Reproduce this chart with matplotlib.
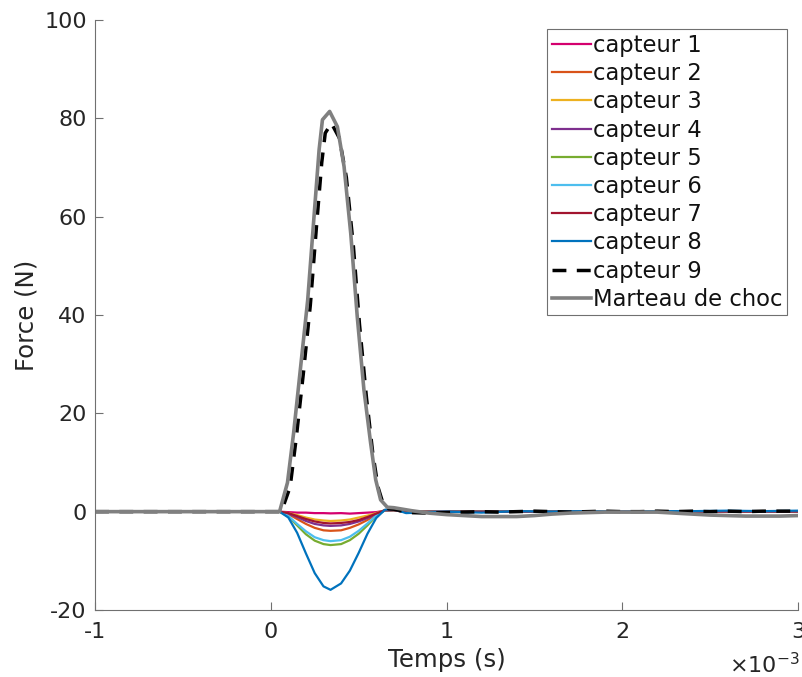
import numpy as np
import matplotlib
matplotlib.use("Agg")
import matplotlib.pyplot as plt

plt.rcParams['axes.unicode_minus'] = False
plt.rcParams['font.family'] = 'DejaVu Sans'

# time in ms (axis shows x 10^-3 s)
t_ham = [-1.0, 0.0, 0.05, 0.095, 0.13, 0.17, 0.21, 0.246, 0.275, 0.294, 0.335, 0.379,
         0.417, 0.455, 0.492, 0.53, 0.568, 0.597, 0.625, 0.663, 0.7, 0.8, 0.9, 1.0,
         1.1, 1.2, 1.3, 1.4, 1.5, 1.6, 1.7, 1.8, 1.9, 2.0, 2.1, 2.2, 2.3, 2.4, 2.5,
         2.6, 2.7, 2.8, 2.9, 3.0]
f_ham = [0, 0, 0, 5.9, 16, 29.5, 43, 60, 73.6, 79.7, 81.4, 78.3,
         70.2, 56.6, 39.7, 24.8, 14, 6.5, 2.4, 0.9, 0.8, 0.2, -0.3, -0.6,
         -0.8, -1.0, -1.0, -1.0, -0.8, -0.5, -0.3, -0.2, -0.1, -0.1, -0.1, -0.1, -0.3, -0.5, -0.7,
         -0.8, -0.9, -0.9, -0.9, -0.8]

t_c9 = [-1.0, 0.0, 0.06, 0.11, 0.145, 0.185, 0.225, 0.26, 0.29, 0.31, 0.345, 0.39,
        0.43, 0.47, 0.505, 0.545, 0.58, 0.61, 0.64, 0.67, 0.7, 0.8, 0.9, 1.0,
        1.1, 1.2, 1.3, 1.4, 1.5, 1.6, 1.7, 1.8, 1.9, 2.0, 2.1, 2.2, 2.3, 2.4, 2.5,
        2.6, 2.7, 2.8, 2.9, 3.0]
f_c9 = [0, 0, 0, 5, 15, 28, 42, 58, 71, 77, 79, 76,
        68, 54, 38, 23, 12, 5, 1.5, 0.6, 0.5, -0.2, -0.3, -0.2,
        -0.1, 0.0, -0.1, 0.0, 0.1, 0.0, -0.1, 0.0, 0.1, 0.0, 0.0, 0.1, 0.0, 0.1, 0.0,
        0.1, 0.0, 0.1, 0.1, 0.1]

# sensors 1-8 share one time grid
t_cap = [-1.0, 0.0, 0.05, 0.1, 0.15, 0.2, 0.25, 0.3, 0.34, 0.4, 0.45, 0.5, 0.55,
         0.6, 0.65, 0.7, 0.77, 0.9, 1.0, 1.2, 1.4, 1.6, 1.8, 2.0, 2.2, 2.4, 2.6, 2.8, 3.0]
f_c1 = [0, 0, 0, -0.1, -0.2, -0.2, -0.3, -0.3, -0.35, -0.3, -0.4, -0.3, -0.2,
        -0.1, 0.2, 0.3, -0.1, 0.0, 0.0, 0.0, 0.0, 0.0, 0.0, 0.0, 0.0, 0.0, 0.0, 0.0, 0.0]
f_c2 = [0, 0, 0, -0.5, -1.5, -2.5, -3.3, -3.8, -3.9, -3.8, -3.3, -2.6, -1.7,
        -0.6, 0.3, 0.3, -0.1, 0.0, 0.0, 0.0, 0.0, 0.0, 0.0, 0.0, 0.0, 0.0, 0.0, 0.0, 0.0]
f_c3 = [0, 0, 0, -0.3, -0.7, -1.2, -1.6, -1.8, -1.9, -1.8, -1.6, -1.2, -0.8,
        -0.3, 0.3, 0.3, -0.1, 0.0, 0.0, 0.0, 0.0, 0.0, 0.0, 0.0, 0.0, 0.0, 0.0, 0.0, 0.0]
f_c4 = [0, 0, 0, -0.4, -1.1, -1.9, -2.5, -2.8, -2.9, -2.8, -2.5, -2.0, -1.3,
        -0.5, 0.3, 0.3, -0.1, 0.0, 0.0, 0.0, 0.0, 0.0, 0.0, 0.0, 0.0, 0.0, 0.0, 0.0, 0.0]
f_c5 = [0, 0, 0, -1.0, -2.8, -4.6, -5.9, -6.6, -6.8, -6.6, -5.8, -4.5, -2.8,
        -0.9, 0.3, 0.3, -0.1, 0.0, 0.0, 0.0, 0.0, 0.0, 0.0, 0.0, 0.0, 0.0, 0.0, 0.0, 0.0]
f_c6 = [0, 0, 0, -0.9, -2.5, -4.0, -5.2, -5.8, -6.0, -5.8, -5.1, -3.9, -2.4,
        -0.8, 0.3, 0.3, -0.1, 0.0, 0.0, 0.0, 0.0, 0.0, 0.0, 0.0, 0.0, 0.0, 0.0, 0.0, 0.0]
f_c7 = [0, 0, 0, -0.3, -0.9, -1.5, -2.0, -2.3, -2.4, -2.3, -2.1, -1.7, -1.1,
        -0.4, 0.3, 0.3, -0.1, 0.0, 0.0, 0.0, 0.0, 0.0, 0.0, 0.0, 0.0, 0.0, 0.0, 0.0, 0.0]
f_c8 = [0, 0, 0, -1.2, -4.3, -8.5, -12.5, -15.2, -15.9, -14.6, -12.0, -8.4, -4.5,
        -1.3, 0.4, 0.5, -0.3, -0.1, 0.0, -0.2, 0.1, 0.0, 0.1, 0.0, 0.1, 0.1, 0.2, 0.1, 0.2]

cap_vals = [f_c1, f_c2, f_c3, f_c4, f_c5, f_c6, f_c7, f_c8]
cap_labels = ['capteur %d' % i for i in range(1, 9)]
cap_colors = ['#d4006e', '#d95319', '#edb120', '#7e2f8e', '#77ac30', '#4dbeee',
              '#a2142f', '#0072bd']

fig = plt.figure(figsize=(8.02, 6.77), dpi=100)
ax = fig.add_axes([0.1185, 0.099, 0.8765, 0.8715])

for vals, lab, col in zip(cap_vals, cap_labels, cap_colors):
    ax.plot(t_cap, vals, color=col, lw=1.6, label=lab)
ax.plot(t_c9, f_c9, 'k--', lw=2.5, dashes=(4, 3), label='capteur 9')
ax.plot(t_ham, f_ham, color=(0.5, 0.5, 0.5), lw=2.6, label='Marteau de choc')

ax.set_xlim(-1, 3)
ax.set_ylim(-20, 100)
ax.set_xticks([-1, 0, 1, 2, 3])
ax.set_yticks([-20, 0, 20, 40, 60, 80, 100])
for s in ['top', 'right']:
    ax.spines[s].set_visible(False)
for s in ['left', 'bottom']:
    ax.spines[s].set_color('#707070')
    ax.spines[s].set_linewidth(0.8)
ax.tick_params(direction='in', length=6, width=0.8, color='#707070',
               labelsize=16, labelcolor='#262626')
ax.tick_params(axis='y', pad=6)
ax.tick_params(axis='x', pad=9)
ax.set_xlabel('Temps (s)', fontsize=17.6, color='#262626', labelpad=4)
ax.set_ylabel('Force (N)', fontsize=17.6, color='#262626', labelpad=4)
fig.text(800 / 802, 1 - 665 / 677, r'$\times$10$^{\mathregular{-3}}$',
         ha='right', va='center', fontsize=16, color='#262626')

leg = ax.legend(loc='upper right', bbox_to_anchor=(0.985, 0.984), fontsize=16.3,
                handlelength=1.72, handletextpad=0.12, labelspacing=0.23,
                borderpad=0.2, borderaxespad=0, fancybox=False, framealpha=1)
leg.get_frame().set_edgecolor('#707070')
leg.get_frame().set_linewidth(0.8)
for txt in leg.get_texts():
    txt.set_color('#111111')

fig.savefig('out.png', dpi=100)
